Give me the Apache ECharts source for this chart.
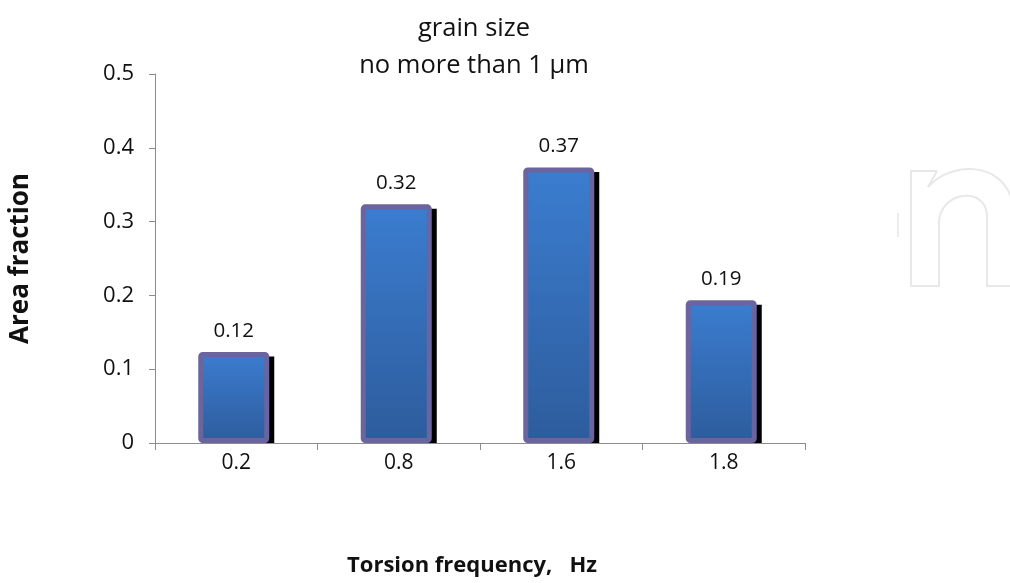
<!DOCTYPE html>
<html>
<head>
<meta charset="utf-8">
<script src="https://cdn.jsdelivr.net/npm/echarts@6/dist/echarts.min.js"></script>
<style>
  html, body { margin: 0; padding: 0; background: #fff; }
  #chart { width: 1010px; height: 583px; }
</style>
</head>
<body>
<div id="chart"></div>
<script>
// Area fraction of grains no larger than 1 µm, by torsion frequency
const categories = ['0.2', '0.8', '1.6', '1.8'];
const areaFraction = [0.12, 0.32, 0.37, 0.19];
const yTicks = { min: 0, max: 0.5, interval: 0.1 };

const FONT = '"Open Sans", "Noto Sans", sans-serif';

const chart = echarts.init(document.getElementById('chart'), null, { renderer: 'canvas' });

// light outline of a letter "n" sitting at the right edge
const logoStroke = { fill: 'none', stroke: '#e8e8e8', lineWidth: 2 };
const logo = [
  { type: 'polyline', shape: { points: [[937, 171], [911, 171], [911, 286], [939, 286], [939, 222]] }, style: logoStroke },
  { type: 'bezierCurve', shape: { x1: 939, y1: 222, cpx1: 940, cpy1: 192, cpx2: 985, cpy2: 185, x2: 987, y2: 215 }, style: logoStroke },
  { type: 'polyline', shape: { points: [[987, 215], [987, 286], [1012, 286]] }, style: logoStroke },
  { type: 'polyline', shape: { points: [[937, 171], [928, 187]] }, style: logoStroke },
  { type: 'bezierCurve', shape: { x1: 928, y1: 187, cpx1: 950, cpy1: 162, cpx2: 1000, cpy2: 160, x2: 1012, y2: 200 }, style: logoStroke },
  { type: 'line', shape: { x1: 898, y1: 213, x2: 898, y2: 237 }, style: { stroke: '#ececec', lineWidth: 2 } }
];

// bar look: bordered, blue gradient, hard black drop shadow to the lower right
const BAR_W = 66, BORDER = 5, SHADOW_DX = 5;
const barFill = {
  type: 'linear', x: 0, y: 0, x2: 0, y2: 1,
  colorStops: [
    { offset: 0, color: '#3b7dd0' },
    { offset: 1, color: '#2d5c9c' }
  ]
};

function renderBar(params, api) {
  const top = api.coord([api.value(0), api.value(1)]);
  const base = api.coord([api.value(0), 0]);
  const cx = top[0] - (SHADOW_DX / 2);
  const left = cx - BAR_W / 2;
  const bottom = base[1] - BORDER / 2;
  return {
    type: 'group',
    children: [
      {
        type: 'rect',
        shape: { x: left + BORDER / 2 + SHADOW_DX, y: top[1] + 2, width: BAR_W, height: base[1] - top[1] - 2 },
        style: { fill: '#000000' }
      },
      {
        type: 'rect',
        shape: { x: left, y: top[1], width: BAR_W, height: bottom - top[1], r: 2 },
        style: { fill: barFill, stroke: '#6a649f', lineWidth: BORDER }
      },
      {
        type: 'text',
        style: {
          text: api.value(1).toFixed(2),
          x: cx, y: top[1] - 13,
          align: 'center', verticalAlign: 'bottom',
          font: '20.5px ' + FONT,
          fill: '#111'
        }
      }
    ]
  };
}

chart.setOption({
  backgroundColor: '#ffffff',
  animation: false,
  title: {
    text: 'grain size\nno more than 1 µm',
    left: 469,
    top: 5,
    textAlign: 'center',
    textStyle: {
      fontFamily: FONT,
      fontSize: 25.5,
      fontWeight: 'normal',
      color: '#111',
      lineHeight: 37
    }
  },
  grid: { left: 155, right: 205, top: 74, bottom: 140, containLabel: false, outerBoundsMode: 'none' },
  xAxis: {
    type: 'category',
    data: categories,
    name: 'Torsion frequency,   Hz',
    nameLocation: 'middle',
    nameGap: 112,
    nameTextStyle: { fontFamily: FONT, fontSize: 22, fontWeight: 'bold', color: '#111', padding: [0, 16, 0, 0] },
    axisLine: { lineStyle: { color: '#8c8c8c', width: 1 } },
    axisTick: { show: true, length: 7, lineStyle: { color: '#8c8c8c' } },
    axisLabel: { fontFamily: FONT, fontSize: 21, color: '#111', margin: 10 },
    splitLine: { show: false }
  },
  yAxis: {
    type: 'value',
    min: yTicks.min,
    max: yTicks.max,
    interval: yTicks.interval,
    name: 'Area fraction',
    nameLocation: 'middle',
    nameGap: 121,
    nameTextStyle: { fontFamily: FONT, fontSize: 26, fontWeight: 'bold', color: '#111' },
    axisLine: { show: true, lineStyle: { color: '#8c8c8c', width: 1 } },
    axisTick: { show: true, length: 6, lineStyle: { color: '#8c8c8c' } },
    axisLabel: {
      fontFamily: FONT, fontSize: 22, color: '#111', margin: 21,
      formatter: v => (v === 0 ? '0' : String(Math.round(v * 10) / 10))
    },
    splitLine: { show: false }
  },
  series: [{
    type: 'custom',
    renderItem: renderBar,
    data: categories.map((c, i) => [i, areaFraction[i]]),
    encode: { x: 0, y: 1 }
  }],
  graphic: [{ type: 'group', silent: true, children: logo }]
});
</script>
</body>
</html>
